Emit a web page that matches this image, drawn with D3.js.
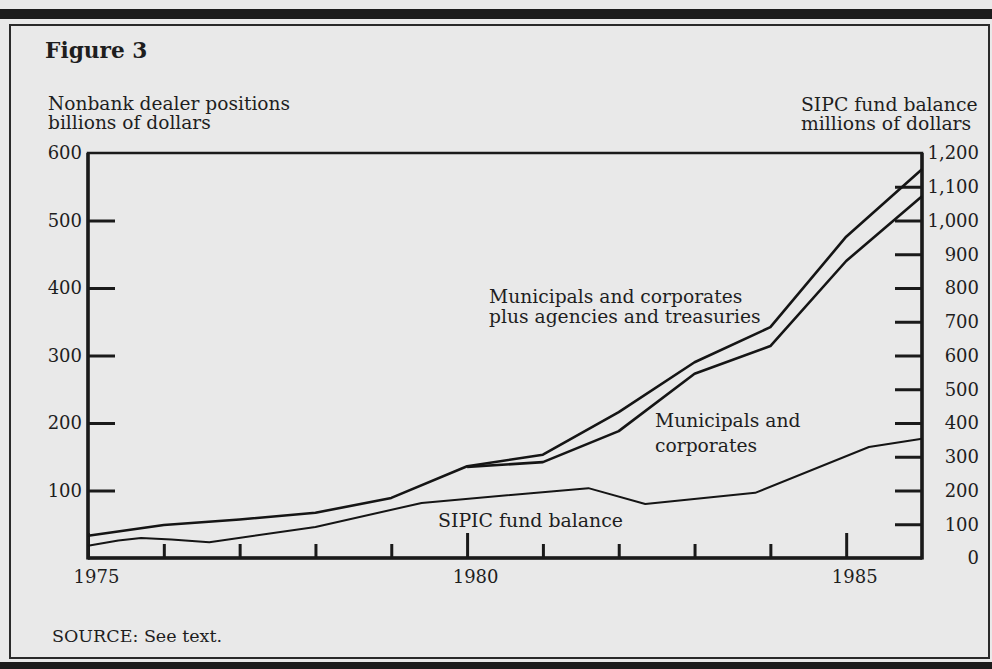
<!DOCTYPE html>
<html>
<head>
<meta charset="utf-8">
<script src="https://cdn.jsdelivr.net/npm/d3@7"></script>
<style>
  html, body { margin: 0; padding: 0; background: #e9e9e9; }
  svg { display: block; }
  text { font-family: "DejaVu Serif", serif; fill: #1e1e1e; }
</style>
</head>
<body>
<svg id="chart" width="992" height="669"></svg>
<script>
// ---- Data ----
const years = [1975, 1976, 1977, 1978, 1979, 1980, 1981, 1982, 1983, 1984, 1985, 1986];
// Municipals and corporates plus agencies and treasuries (billions of dollars)
const totalPositions = [33, 49, 57, 67, 89, 136, 153, 216, 290, 342, 476, 576];
// Municipals and corporates (billions of dollars), from 1980 on
const muniYears = [1980, 1981, 1982, 1983, 1984, 1985, 1986];
const muniCorp = [135, 142, 188, 273, 314, 440, 536];
// SIPC fund balance (millions of dollars)
const sipcYears = [1975, 1975.4, 1975.7, 1976.1, 1976.6, 1978, 1979.4, 1981.6, 1982.35, 1983.8, 1985.3, 1986];
const sipcBalance = [36, 52, 59, 55, 47, 92, 163, 207, 160, 193, 329, 353];

const leftTicks = [100, 200, 300, 400, 500, 600];
const rightTicks = [0, 100, 200, 300, 400, 500, 600, 700, 800, 900, 1000, 1100, 1200];
const yearTicks = [1975, 1976, 1977, 1978, 1979, 1980, 1981, 1982, 1983, 1984, 1985];
const yearLabels = [1975, 1980, 1985];

// ---- Layout ----
const svg = d3.select("#chart");
const L = 88, R = 922, T = 153, B = 558;

// page decorations
svg.append("rect").attr("x", 0).attr("y", 9).attr("width", 992).attr("height", 10).attr("fill", "#1c1c1c");
svg.append("rect").attr("x", 10).attr("y", 25).attr("width", 979).attr("height", 633)
  .attr("fill", "#e9e9e9").attr("stroke", "#2a2a2a").attr("stroke-width", 2);
svg.append("rect").attr("x", 0).attr("y", 662).attr("width", 992).attr("height", 7).attr("fill", "#1c1c1c");

const x = d3.scaleLinear().domain([1975, 1986]).range([L, R]);
const yL = d3.scaleLinear().domain([0, 600]).range([B, T]);
const yR = d3.scaleLinear().domain([0, 1200]).range([B, T]);

// Titles
svg.append("text").attr("x", 45).attr("y", 58).attr("font-size", 21.7).attr("font-weight", "bold").text("Figure 3");
svg.append("text").attr("x", 48).attr("y", 110).attr("font-size", 18.6).text("Nonbank dealer positions");
svg.append("text").attr("x", 48).attr("y", 129).attr("font-size", 18.6).text("billions of dollars");
svg.append("text").attr("x", 801).attr("y", 111).attr("font-size", 18.8).text("SIPC fund balance");
svg.append("text").attr("x", 801).attr("y", 130).attr("font-size", 18.8).text("millions of dollars");

// Axes
const gL = svg.append("g").attr("transform", `translate(${L},0)`)
  .call(d3.axisLeft(yL).tickValues(leftTicks).tickSizeInner(-27).tickSizeOuter(0).tickPadding(6));
const gR = svg.append("g").attr("transform", `translate(${R},0)`)
  .call(d3.axisRight(yR).tickValues(rightTicks).tickSizeInner(-27).tickSizeOuter(0).tickPadding(6)
    .tickFormat(d3.format(",")));
const gB = svg.append("g").attr("transform", `translate(0,${B})`)
  .call(d3.axisBottom(x).tickValues(yearTicks).tickSizeInner(-14).tickSizeOuter(0).tickPadding(12)
    .tickFormat(d => yearLabels.includes(d) ? String(d) : ""));

[gL, gR, gB].forEach(g => {
  g.select(".domain").remove();
  g.selectAll(".tick line").attr("stroke", "#1a1a1a").attr("stroke-width", 3);
  g.selectAll(".tick text").attr("font-family", "DejaVu Serif").attr("font-size", 18).attr("fill", "#1e1e1e");
});
gR.selectAll(".tick text").attr("text-anchor", "end").attr("x", 57);
gR.selectAll(".tick").filter(d => d === 0 || d === 1200).select("line").remove();
gL.selectAll(".tick").filter(d => d === 600).select("line").remove();
gB.selectAll(".tick line").attr("y2", d => yearLabels.includes(d) ? -25 : -14);
gB.selectAll(".tick text").attr("dx", 8);

// Plot frame
svg.append("rect").attr("x", L).attr("y", T).attr("width", R - L).attr("height", B - T)
  .attr("fill", "none").attr("stroke", "#1a1a1a").attr("stroke-width", 2.5);
svg.append("line").attr("x1", L).attr("x2", L).attr("y1", T).attr("y2", B + 1.5).attr("stroke", "#1a1a1a").attr("stroke-width", 3.5);
svg.append("line").attr("x1", R).attr("x2", R).attr("y1", T).attr("y2", B + 1.5).attr("stroke", "#1a1a1a").attr("stroke-width", 3.5);
svg.append("line").attr("x1", L).attr("x2", R).attr("y1", B).attr("y2", B).attr("stroke", "#1a1a1a").attr("stroke-width", 3.5);

// Lines
const lineL = d3.line().x(d => x(d[0])).y(d => yL(d[1]));
const lineR = d3.line().x(d => x(d[0])).y(d => yR(d[1]));

svg.append("path").datum(years.map((yr, i) => [yr, totalPositions[i]]))
  .attr("d", lineL).attr("fill", "none").attr("stroke", "#151515").attr("stroke-width", 2.6).attr("stroke-linejoin", "round");
svg.append("path").datum(muniYears.map((yr, i) => [yr, muniCorp[i]]))
  .attr("d", lineL).attr("fill", "none").attr("stroke", "#151515").attr("stroke-width", 2.6).attr("stroke-linejoin", "round");
svg.append("path").datum(sipcYears.map((yr, i) => [yr, sipcBalance[i]]))
  .attr("d", lineR).attr("fill", "none").attr("stroke", "#151515").attr("stroke-width", 2).attr("stroke-linejoin", "round");

// Line labels
const lab = (xx, yy, t, fs) => svg.append("text").attr("x", xx).attr("y", yy).attr("font-size", fs).text(t);
lab(489, 303, "Municipals and corporates", 18.7);
lab(489, 323, "plus agencies and treasuries", 18.7);
lab(655, 427, "Municipals and", 18.7);
lab(655, 452, "corporates", 18.7);
lab(438, 527, "SIPIC fund balance", 18.9);

// Source
svg.append("text").attr("x", 52).attr("y", 642).attr("font-size", 17.5).text("SOURCE: See text.");
</script>
</body>
</html>
